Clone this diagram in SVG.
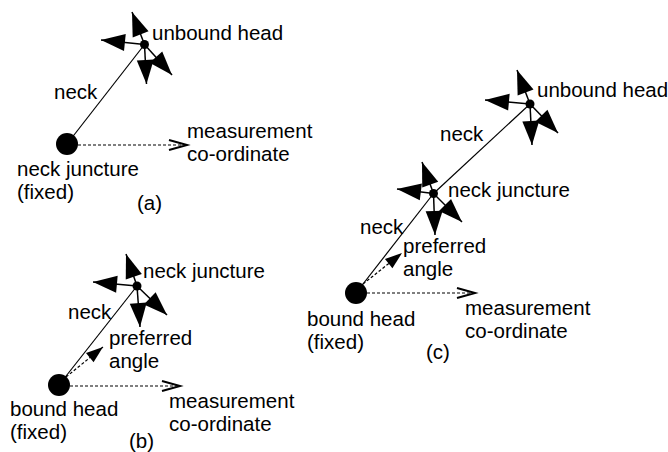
<svg xmlns="http://www.w3.org/2000/svg" width="668" height="452" viewBox="0 0 668 452">
<style>
text{font-family:"Liberation Sans",Arial,sans-serif;font-size:20.5px;fill:#000}
.neck{stroke:#000;stroke-width:1.2;fill:none}
.dir{stroke:#000;stroke-width:1.5;fill:none;marker-end:url(#ah)}
.meas{stroke:#000;stroke-width:1.2;stroke-dasharray:3,2;fill:none;marker-end:url(#oa)}
.pref{stroke:#000;stroke-width:1.2;stroke-dasharray:3,2;fill:none;marker-end:url(#ah2)}
</style>
<defs>
<marker id="ah" markerUnits="userSpaceOnUse" markerWidth="26" markerHeight="18" refX="24" refY="8.5" orient="auto" overflow="visible"><path d="M0,0 L24,8.5 L0,17 Z" fill="#000"/></marker>
<marker id="ah2" markerUnits="userSpaceOnUse" markerWidth="18" markerHeight="13" refX="17" refY="6" orient="auto" overflow="visible"><path d="M0,0 L17,6 L0,12 Z" fill="#000"/></marker>
<marker id="oa" markerUnits="userSpaceOnUse" markerWidth="20" markerHeight="12" refX="18" refY="5" orient="auto" overflow="visible"><path d="M0,0 L18,5 L0,10" fill="none" stroke="#000" stroke-width="2"/></marker>
</defs>
<g id="connectors">
<line class="neck" x1="67" y1="144" x2="144.5" y2="44.5"/>
<line class="dir" x1="144.5" y1="44.5" x2="101" y2="40"/>
<line class="dir" x1="144.5" y1="44.5" x2="132" y2="12"/>
<line class="dir" x1="144.5" y1="44.5" x2="146.5" y2="84"/>
<line class="dir" x1="144.5" y1="44.5" x2="172" y2="75"/>
<line class="meas" x1="78" y1="145" x2="187" y2="145"/>
<line class="neck" x1="59" y1="385" x2="137" y2="286"/>
<line class="dir" x1="137" y1="286" x2="93" y2="282"/>
<line class="dir" x1="137" y1="286" x2="126" y2="254"/>
<line class="dir" x1="137" y1="286" x2="140" y2="327"/>
<line class="dir" x1="137" y1="286" x2="167" y2="315"/>
<line class="pref" x1="66" y1="377" x2="103" y2="347"/>
<line class="meas" x1="70" y1="386" x2="180" y2="386"/>
<line class="neck" x1="356" y1="293" x2="433.5" y2="193.5"/>
<line class="neck" x1="433.5" y1="193.5" x2="530" y2="104"/>
<line class="dir" x1="433.5" y1="193.5" x2="397" y2="189"/>
<line class="dir" x1="433.5" y1="193.5" x2="422" y2="162"/>
<line class="dir" x1="433.5" y1="193.5" x2="435" y2="235"/>
<line class="dir" x1="433.5" y1="193.5" x2="462" y2="222"/>
<line class="dir" x1="530" y1="104" x2="485" y2="100"/>
<line class="dir" x1="530" y1="104" x2="517" y2="70"/>
<line class="dir" x1="530" y1="104" x2="532" y2="145"/>
<line class="dir" x1="530" y1="104" x2="558" y2="133"/>
<line class="pref" x1="363" y1="284" x2="402" y2="253"/>
<line class="meas" x1="367" y1="293" x2="475" y2="293"/>
</g>
<g id="a-junction"><circle cx="67" cy="144" r="11"/><text x="17" y="176">neck juncture</text><text x="17" y="199">(fixed)</text></g>
<g id="a-head"><circle cx="144.5" cy="44.5" r="4.5"/><text x="152" y="40">unbound head</text></g>
<g id="a-labels"><text x="54" y="99">neck</text><text x="187" y="138">measurement</text><text x="187" y="161">co-ordinate</text><text x="137" y="210">(a)</text></g>
<g id="b-bound"><circle cx="59" cy="385" r="11"/><text x="10" y="416">bound head</text><text x="10" y="439">(fixed)</text></g>
<g id="b-junction"><circle cx="137" cy="286" r="4.5"/><text x="143" y="278">neck juncture</text></g>
<g id="b-labels"><text x="68" y="319">neck</text><text x="109" y="345">preferred</text><text x="109" y="368">angle</text><text x="169" y="408">measurement</text><text x="169" y="431">co-ordinate</text><text x="129" y="448">(b)</text></g>
<g id="c-bound"><circle cx="356" cy="293" r="11"/><text x="307" y="326">bound head</text><text x="307" y="349">(fixed)</text></g>
<g id="c-junction"><circle cx="433.5" cy="193.5" r="4.5"/><text x="448" y="197">neck juncture</text></g>
<g id="c-head"><circle cx="530" cy="104" r="4.5"/><text x="537" y="97">unbound head</text></g>
<g id="c-labels"><text x="440" y="141">neck</text><text x="360" y="234">neck</text><text x="403" y="253">preferred</text><text x="403" y="276">angle</text><text x="465" y="315">measurement</text><text x="465" y="338">co-ordinate</text><text x="426" y="359">(c)</text></g>
</svg>
